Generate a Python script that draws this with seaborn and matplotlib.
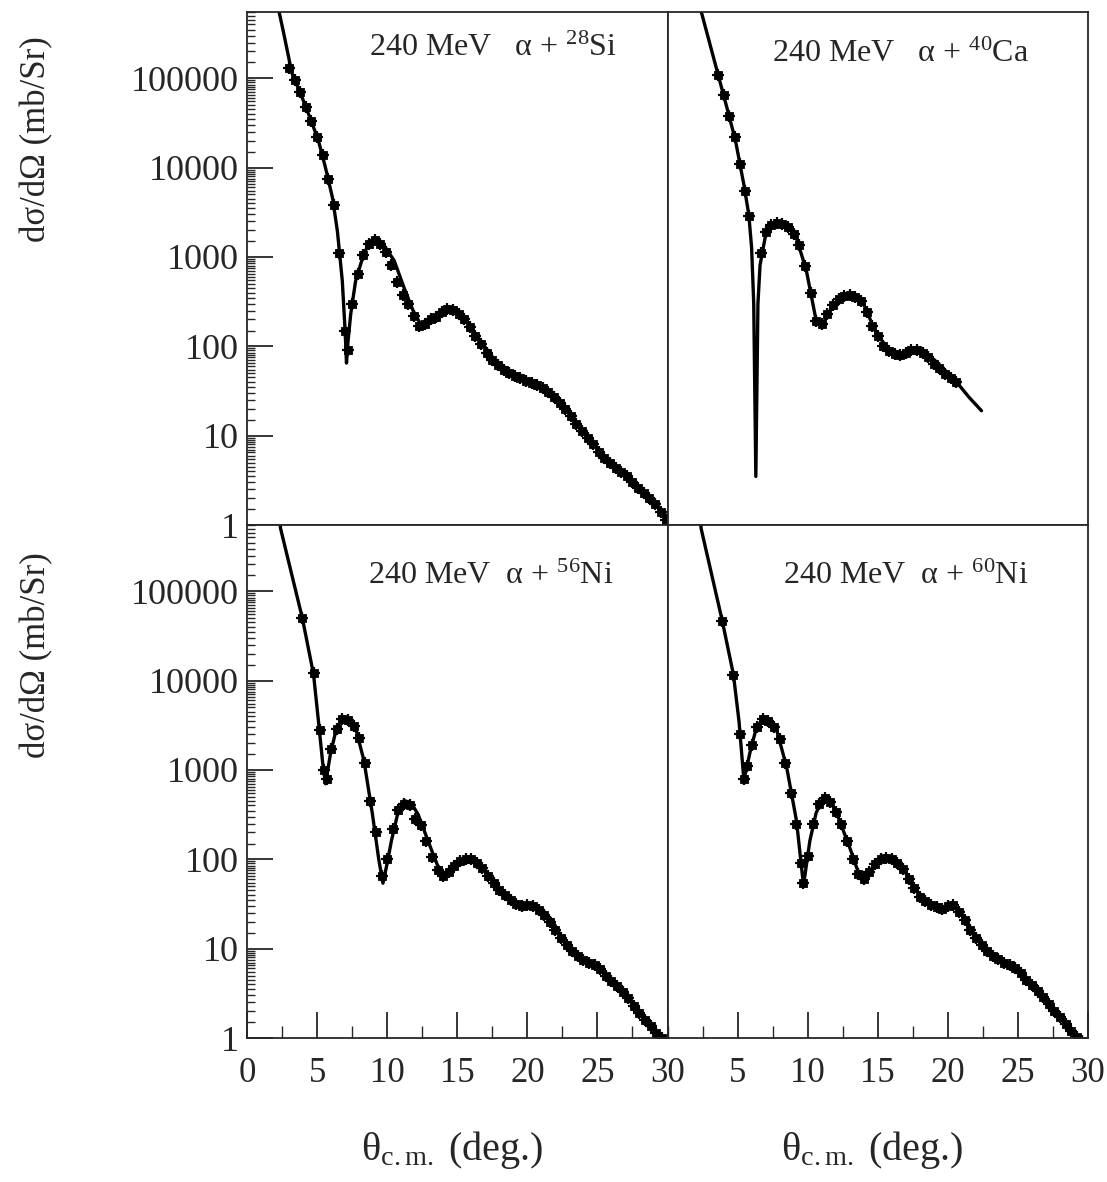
import numpy as np
import pandas as pd
import matplotlib
matplotlib.use("Agg")
import matplotlib.pyplot as plt
import matplotlib.ticker as mticker
import seaborn as sns

# ---------------- data ----------------
panels = ["28Si", "40Ca", "56Ni", "60Ni"]
titles = ["240 MeV   α + $^{28}$Si", "240 MeV   α + $^{40}$Ca",
          "240 MeV  α + $^{56}$Ni", "240 MeV  α + $^{60}$Ni"]

# theory curves
si_fit_x = [2.0, 2.6, 3.2, 3.95, 4.5, 5.1, 5.6, 6.1, 6.45, 6.8, 7.0, 7.1, 7.2, 7.4, 7.75, 8.25, 8.7,
            9.1, 9.5, 9.8, 10.5, 11.2, 11.85, 12.4, 12.9, 13.35, 14.0, 14.6, 15.0, 15.5, 16.5, 17.7,
            19.1, 20.8, 21.75, 22.7, 24.1, 25.55, 27.0, 28.4, 29.85, 30.0]
si_fit_y = [9e5, 3.3e5, 1.15e5, 6e4, 3.6e4, 2e4, 1e4, 4.6e3, 1950, 540, 150, 65, 110, 230, 540, 980, 1450,
            1600, 1480, 1330, 910, 455, 250, 175, 185, 210, 240, 250, 240, 210, 125, 69,
            49, 37, 30, 21, 10.4, 5.7, 3.7, 2.2, 1.3, 1.2]

ca_fit_x = [2.3, 2.4, 3.3, 4.25, 4.85, 5.45, 5.8, 6.0, 6.15, 6.3, 6.45, 6.6, 7.05, 7.5, 8.1, 8.6, 9.2,
            9.9, 10.6, 11.1, 11.8, 12.4, 13.05, 13.9, 14.8, 15.8, 16.75, 17.8, 18.4, 19.1, 20.5,
            21.5, 22.4]
ca_fit_y = [8e5, 5.6e5, 1.66e5, 4.6e4, 2e4, 6.4e3, 2960, 1260, 300, 3.5, 300, 810, 1950, 2350, 2450,
            2250, 1620, 710, 195, 180, 290, 360, 380, 320, 150, 89, 79, 93, 85, 69, 42, 27, 19]

ni56_fit_x = [2.3, 2.4, 3.95, 4.75, 5.1, 5.4, 5.6, 5.95, 6.4, 6.9, 7.4, 7.75, 8.35, 8.95, 9.4, 9.7,
              10.0, 10.3, 10.8, 11.2, 11.7, 12.2, 13.1, 13.6, 14.1, 14.8, 15.8, 16.3, 16.95, 17.7,
              18.4, 19.8, 20.5, 21.1, 21.75, 22.7, 24.1, 25.1, 26.55, 28.0, 29.6, 30.0]
ni56_fit_y = [7e5, 5e5, 5e4, 1.17e4, 3.5e3, 1.2e3, 700, 1500, 3000, 3800, 3500, 2950, 1260, 320, 100, 54,
              90, 160, 350, 455, 430, 320, 135, 85, 69, 85, 105, 95, 76, 52,
              41, 29, 31, 27, 21, 11.5, 7.4, 6.2, 3.7, 1.9, 1.02, 0.9]

ni60_fit_x = [2.3, 2.4, 3.9, 4.7, 5.1, 5.45, 5.9, 6.35, 6.85, 7.3, 7.8, 8.5, 9.2, 9.7, 10.15, 10.6,
              11.1, 11.5, 12.0, 13.0, 13.5, 13.9, 14.6, 15.55, 16.1, 16.75, 17.4, 18.15, 19.55,
              20.25, 21.0, 21.9, 23.3, 24.7, 26.1, 27.55, 29.2, 30.0]
ni60_fit_y = [7e5, 5e5, 4.7e4, 1.17e4, 3.5e3, 760, 1620, 3000, 3800, 3500, 2750, 1070, 270, 51, 160, 330,
              490, 460, 350, 135, 80, 58, 80, 105, 100, 81, 55, 37, 28,
              32, 24, 13.5, 7.9, 6.2, 3.7, 2.0, 1.02, 0.85]

# measured points
si_dat_x = [3.0, 3.4, 3.8, 4.2, 4.6, 5.0, 5.4, 5.8, 6.2, 6.6, 7.0, 7.2, 7.5, 7.9, 8.3, 8.7, 9.1, 9.5,
            9.9, 10.3, 10.7, 11.1, 11.5, 11.9, 12.3, 12.7, 13.1, 13.5, 13.9, 14.3, 14.7, 15.1, 15.5,
            15.9, 16.3, 16.7, 17.1, 17.5, 17.9, 18.3, 18.7, 19.1, 19.5, 19.9, 20.3, 20.7, 21.1,
            21.5, 21.9, 22.3, 22.7, 23.1, 23.5, 23.9, 24.3, 24.7, 25.1, 25.5, 25.9, 26.3, 26.7,
            27.1, 27.5, 27.9, 28.3, 28.7, 29.1, 29.5, 29.9]
si_dat_y = [1.3e5, 9.5e4, 7e4, 4.8e4, 3.3e4, 2.2e4, 1.4e4, 7.5e3, 3.8e3, 1.1e3, 150, 90, 300, 650, 1050,
            1400, 1550, 1400, 1150, 820, 520, 380, 300, 220, 170, 180, 200, 215, 240, 260, 255, 230,
            200, 165, 130, 105, 85, 70, 62, 55, 50, 47, 44, 41, 39, 37, 34, 31, 27, 23, 20, 16.5,
            13.5, 11.2, 9.5, 8.0, 6.6, 5.6, 5.0, 4.4, 3.9, 3.5, 3.0, 2.6, 2.3, 2.0, 1.7, 1.4, 1.15]

ca_dat_x = [3.6, 4.0, 4.4, 4.8, 5.2, 5.5, 5.8, 6.7, 7.0, 7.4, 7.8, 8.2, 8.6, 9.0, 9.4, 9.8, 10.2,
            10.6, 11.0, 11.4, 11.8, 12.2, 12.6, 13.0, 13.4, 13.8, 14.2, 14.6, 15.0, 15.4, 15.8,
            16.2, 16.6, 17.0, 17.4, 17.8, 18.2, 18.6, 19.0, 19.4, 19.8, 20.2, 20.6]
ca_dat_y = [1.1e5, 6.5e4, 3.8e4, 2.2e4, 1.1e4, 5.5e3, 2.9e3, 1100, 1900, 2250, 2400, 2350, 2150, 1800,
            1350, 800, 400, 190, 180, 230, 290, 340, 370, 380, 360, 320, 240, 170, 130, 100, 88,
            82, 80, 84, 90, 90, 85, 75, 64, 57, 49, 44, 40]

ni56_dat_x = [3.9, 4.75, 5.2, 5.5, 5.7, 6.0, 6.4, 6.8, 7.2, 7.6, 8.0, 8.4, 8.8, 9.2, 9.6, 10.0, 10.4,
              10.8, 11.2, 11.6, 12.0, 12.4, 12.8, 13.2, 13.6, 14.0, 14.4, 14.8, 15.2, 15.6, 16.0,
              16.4, 16.8, 17.2, 17.6, 18.0, 18.4, 18.8, 19.2, 19.6, 20.0, 20.4, 20.8, 21.2, 21.6,
              22.0, 22.4, 22.8, 23.2, 23.6, 24.0, 24.4, 24.8, 25.2, 25.6, 26.0, 26.4, 26.8, 27.2,
              27.6, 28.0, 28.4, 28.8, 29.2, 29.6]
ni56_dat_y = [5e4, 1.2e4, 2.8e3, 1.0e3, 800, 1700, 2900, 3700, 3600, 3100, 2300, 1200, 450, 200, 65,
              100, 220, 360, 420, 400, 280, 240, 160, 105, 75, 65, 72, 85, 95, 100, 100, 92, 80,
              65, 54, 45, 40, 35, 32, 30, 31, 30, 27, 24, 20, 16, 13, 11, 9.5, 8.2, 7.5, 7.0,
              6.5, 5.9, 5.0, 4.3, 3.8, 3.3, 2.8, 2.3, 1.9, 1.6, 1.35, 1.15, 1.0]

ni60_dat_x = [3.9, 4.7, 5.2, 5.45, 5.7, 6.0, 6.4, 6.8, 7.2, 7.6, 8.0, 8.4, 8.8, 9.2, 9.5, 9.7, 10.0,
              10.4, 10.8, 11.2, 11.6, 12.0, 12.4, 12.8, 13.2, 13.6, 14.0, 14.4, 14.8, 15.2, 15.6,
              16.0, 16.4, 16.8, 17.2, 17.6, 18.0, 18.4, 18.8, 19.2, 19.6, 20.0, 20.4, 20.8, 21.2,
              21.6, 22.0, 22.4, 22.8, 23.2, 23.6, 24.0, 24.4, 24.8, 25.2, 25.6, 26.0, 26.4, 26.8,
              27.2, 27.6, 28.0, 28.4, 28.8, 29.2, 29.6]
ni60_dat_y = [4.7e4, 1.15e4, 2.5e3, 800, 1100, 1900, 3000, 3700, 3500, 3000, 2200, 1200, 550, 250, 90,
              55, 110, 250, 420, 480, 440, 340, 250, 160, 100, 68, 60, 72, 88, 100, 104, 100, 90,
              78, 60, 48, 38, 34, 31, 29, 28, 30, 31, 26, 21, 16, 13, 11, 9.5, 8.3, 7.6, 7.0, 6.6,
              6.1, 5.3, 4.5, 3.9, 3.4, 2.9, 2.4, 2.0, 1.7, 1.45, 1.2, 1.02, 0.92]

fits = [(si_fit_x, si_fit_y), (ca_fit_x, ca_fit_y), (ni56_fit_x, ni56_fit_y), (ni60_fit_x, ni60_fit_y)]
dats = [(si_dat_x, si_dat_y), (ca_dat_x, ca_dat_y), (ni56_dat_x, ni56_dat_y), (ni60_dat_x, ni60_dat_y)]

ytick_vals = [1, 10, 100, 1000, 10000, 100000]
ytick_labels = ["1", "10", "100", "1000", "10000", "100000"]
xtick_left = [0, 5, 10, 15, 20, 25, 30]
xtick_right = [5, 10, 15, 20, 25, 30]

# ---------------- style ----------------
sns.set_style("ticks")
plt.rcParams["font.family"] = ["Liberation Serif", "DejaVu Serif"]
plt.rcParams["mathtext.fontset"] = "custom"
plt.rcParams["mathtext.rm"] = "Liberation Serif"
plt.rcParams["mathtext.it"] = "Liberation Serif:italic"
plt.rcParams["mathtext.bf"] = "Liberation Serif:bold"
plt.rcParams["axes.linewidth"] = 1.3

fig = plt.figure(figsize=(11.07, 11.82), dpi=100)
gs = fig.add_gridspec(2, 2, left=0.2231, right=0.9829, top=0.9898, bottom=0.1218,
                      wspace=0, hspace=0)
axes = [fig.add_subplot(gs[i, j]) for i in range(2) for j in range(2)]

title_pos = [(0.586, 0.93), (0.553, 0.918), (0.579, 0.90), (0.567, 0.90)]

for k, ax in enumerate(axes):
    fx, fy = fits[k]
    dx, dy = dats[k]
    fit_df = pd.DataFrame({"theta": fx, "xs": fy})
    dat_df = pd.DataFrame({"theta": dx, "xs": dy})
    sns.lineplot(data=fit_df, x="theta", y="xs", ax=ax, color="black", lw=2.4,
                 sort=False, estimator=None)
    sns.scatterplot(data=dat_df, x="theta", y="xs", ax=ax, color="black", marker="s",
                    s=36, edgecolor="black", linewidth=0.6)
    sns.scatterplot(data=dat_df, x="theta", y="xs", ax=ax, color="black", marker="+",
                    s=80, linewidth=1.6)
    ax.set_yscale("log")
    ax.set_xlim(0, 30)
    ax.set_ylim(1, 5.5e5)
    ax.set_xlabel("")
    ax.set_ylabel("")
    for sp in ax.spines.values():
        sp.set_visible(True)
        sp.set_linewidth(1.3)
    ax.text(title_pos[k][0], title_pos[k][1], titles[k], transform=ax.transAxes,
            ha="center", va="center", fontsize=23)

    row, col = divmod(k, 2)
    if col == 0:
        ax.set_yticks(ytick_vals)
        ax.set_yticklabels(ytick_labels)
        ax.yaxis.set_minor_locator(mticker.LogLocator(base=10, subs=np.arange(1.5, 10, 0.5), numticks=40))
        ax.yaxis.set_minor_formatter(mticker.NullFormatter())
        ax.tick_params(axis="y", which="major", direction="in", length=19, width=1.3,
                       labelsize=26, pad=6, left=True, right=False)
        ax.tick_params(axis="y", which="minor", direction="in", length=6, width=1.0,
                       left=True, right=False)
    else:
        ax.set_yticks([])
        ax.yaxis.set_minor_locator(mticker.NullLocator())
        ax.tick_params(axis="y", which="both", left=False, right=False, labelleft=False)
    if row == 1:
        xt = xtick_left if col == 0 else xtick_right
        ax.set_xticks(xt)
        ax.set_xticklabels([str(v) for v in xt])
        ax.xaxis.set_minor_locator(mticker.MultipleLocator(2.5))
        ax.tick_params(axis="x", which="major", direction="in", length=19, width=1.3,
                       labelsize=25, pad=14, bottom=True, top=False)
        ax.tick_params(axis="x", which="minor", direction="in", length=9, width=1.0,
                       bottom=True, top=False)
    else:
        ax.set_xticks([])
        ax.xaxis.set_minor_locator(mticker.NullLocator())
        ax.tick_params(axis="x", which="both", bottom=False, top=False, labelbottom=False)

ylab = "dσ/dΩ (mb/Sr)"
fig.text(37 / 1107, 1 - 139 / 1182, ylab, rotation=90, ha="center", va="center", fontsize=25)
fig.text(37 / 1107, 1 - 655 / 1182, ylab, rotation=90, ha="center", va="center", fontsize=25)

xlab = "θ$_{\\mathrm{c.m.}}$ (deg.)"
fig.text(452 / 1107, 1 - 1150 / 1182, xlab, ha="center", va="center", fontsize=29)
fig.text(872 / 1107, 1 - 1150 / 1182, xlab, ha="center", va="center", fontsize=29)

fig.savefig("out.png", dpi=100, facecolor="white")
